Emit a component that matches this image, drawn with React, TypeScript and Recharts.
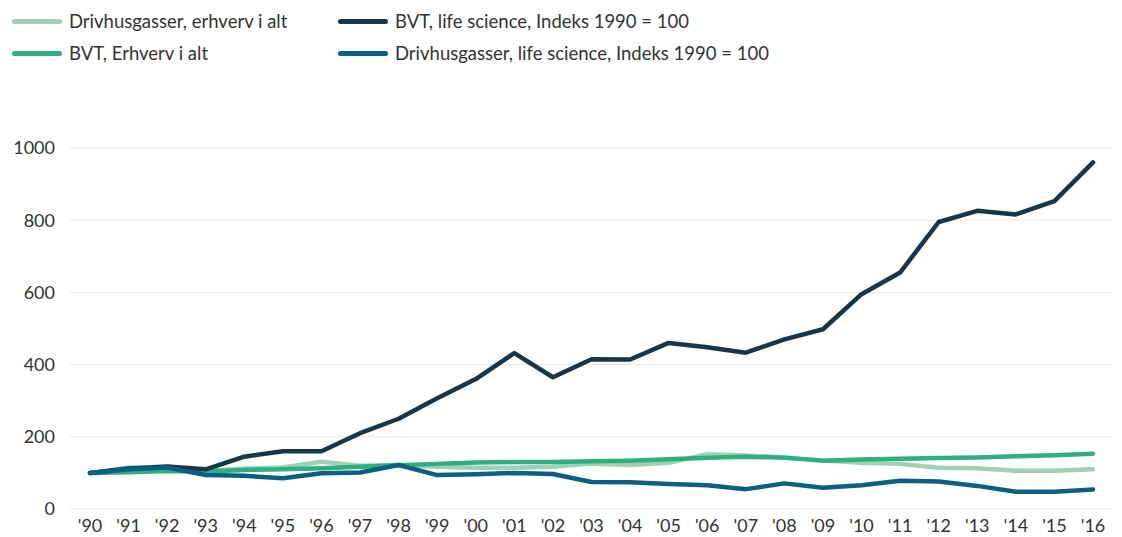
import React from "react";
import { LineChart, Line, XAxis, YAxis, CartesianGrid } from "recharts";

const years = ["'90","'91","'92","'93","'94","'95","'96","'97","'98","'99","'00","'01","'02","'03","'04","'05","'06","'07","'08","'09","'10","'11","'12","'13","'14","'15","'16"];
const drivhusErhverv = [100,115,112,105,112,115,131,120,122,117,114,114,117,126,122,128,152,148,143,134,128,125,114,113,106,106,110];
const bvtErhverv = [100,102,105,104,108,110,113,117,121,125,129,130,130,132,134,138,142,145,142,134,137,139,141,143,146,149,153];
const bvtLifeScience = [100,112,118,110,145,160,160,210,250,307,360,432,365,415,414,460,448,433,470,498,595,655,795,826,816,853,960];
const drivhusLifeScience = [100,110,115,94,92,85,99,101,122,94,96,100,97,75,74,69,66,55,71,59,66,78,76,64,48,48,54];
const yTicks = [0,200,400,600,800,1000];

const series = [
  { key: "drivhusErhverv", name: "Drivhusgasser, erhverv i alt", color: "#9dd0b5" },
  { key: "bvtErhverv", name: "BVT, Erhverv i alt", color: "#2fae80" },
  { key: "bvtLifeScience", name: "BVT, life science, Indeks 1990 = 100", color: "#17364a" },
  { key: "drivhusLifeScience", name: "Drivhusgasser, life science, Indeks 1990 = 100", color: "#0a5f82" },
];
const legendOrder = ["drivhusErhverv", "bvtLifeScience", "bvtErhverv", "drivhusLifeScience"];

const data = years.map((y, i) => ({
  year: y,
  drivhusErhverv: drivhusErhverv[i],
  bvtErhverv: bvtErhverv[i],
  bvtLifeScience: bvtLifeScience[i],
  drivhusLifeScience: drivhusLifeScience[i],
}));

const FONT = "Lato, 'Noto Sans', sans-serif";
const TEXT = "#333333";

function LegendBlock() {
  return (
    <div style={{ position: "absolute", left: 0, top: 0, width: 900, height: 70 }}>
      {legendOrder.map((k, i) => {
        const s = series.find((x) => x.key === k)!;
        const col = i % 2;
        const row = Math.floor(i / 2);
        return (
          <div
            key={k}
            style={{
              position: "absolute",
              left: col === 0 ? 12 : 338,
              top: row === 0 ? 21 : 53,
              transform: "translateY(-50%)",
              display: "flex",
              alignItems: "center",
              whiteSpace: "nowrap",
            }}
          >
            <span style={{ display: "inline-block", width: 50, height: 5, borderRadius: 3, background: s.color, marginRight: 7 }} />
            <span style={{ fontFamily: FONT, fontSize: 18.5, color: TEXT }}>{s.name}</span>
          </div>
        );
      })}
    </div>
  );
}

export default function App() {
  return (
    <div style={{ position: "absolute", left: 0, top: 0, width: 1122, height: 537, background: "#fff" }}>
      <LineChart width={1122} height={537} data={data} margin={{ top: 148, right: 10, bottom: 0, left: 0 }}>
        <CartesianGrid vertical={false} stroke="#e6e6e6" />
        <XAxis
          dataKey="year"
          axisLine={false}
          tickLine={false}
          tickSize={0}
          tickMargin={10}
          interval={0}
          padding={{ left: 20, right: 19 }}
          tick={{ fill: TEXT, fontSize: 18, fontFamily: FONT }}
          height={28}
        />
        <YAxis
          domain={[0, 1000]}
          ticks={yTicks}
          axisLine={false}
          tickLine={false}
          tickSize={0}
          tickMargin={15}
          width={70}
          tick={{ fill: TEXT, fontSize: 18, fontFamily: FONT }}
        />
        {series.map((s) => (
          <Line
            key={s.key}
            dataKey={s.key}
            name={s.name}
            type="linear"
            stroke={s.color}
            strokeWidth={4.5}
            strokeLinecap="round"
            strokeLinejoin="round"
            dot={false}
            activeDot={false}
            isAnimationActive={false}
          />
        ))}
      </LineChart>
      <LegendBlock />
    </div>
  );
}
